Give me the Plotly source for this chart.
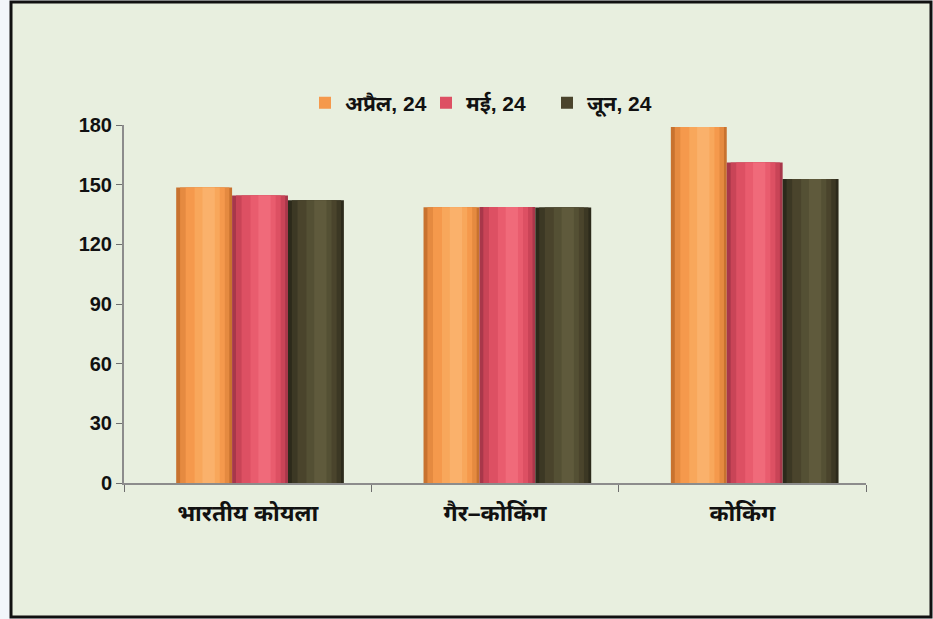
"""कोयला मूल्य सूचकांक - स्तंभ चार्ट"""
import plotly.graph_objects as go

categories = ['भारतीय कोयला', 'गैर–कोकिंग', 'कोकिंग']
series_names = ['अप्रैल, 24', 'मई, 24', 'जून, 24']
april = [148.6, 138.6, 179.0]
may = [144.6, 138.8, 161.2]
june = [142.2, 138.5, 152.8]
y_ticks = [0, 30, 60, 90, 120, 150, 180]

# बेलनाकार छाया: किनारे से चमक तक रंग
shades = [
    ['#C8722F', '#E58A40', '#F5994C', '#F8A75B', '#FAB16B'],
    ['#A8374A', '#C94457', '#DD5063', '#E95C6E', '#F06A7A'],
    ['#2C2A1B', '#3C3824', '#4A442C', '#545034', '#5F5A3C'],
]
W, H = 933, 619
L, R, T, B = 124, 67, 125, 136
pw, ph = W - L - R, H - T - B
bar_w = 0.226
bar_off = [-0.289, -0.063, 0.163]
# (बाएँ से अंश, चौड़ाई का अंश)
bands = [(0.0, 1.0), (0.07, 0.88), (0.17, 0.70), (0.33, 0.45), (0.47, 0.22)]


def px_x(x):
    return (x - L) / pw


def px_y(y):
    return (H - B - y) / ph


fig = go.Figure()
for name, vals, cols, off in zip(series_names, [april, may, june], shades, bar_off):
    for k, ((f0, fw), col) in enumerate(zip(bands, cols)):
        fig.add_trace(go.Bar(
            x=categories, y=vals, name=name, legendgroup=name,
            showlegend=(k == 2), offset=off + f0 * bar_w, width=fw * bar_w,
            marker=dict(color=col, line=dict(width=0)),
        ))

fig.update_layout(
    width=W, height=H,
    margin=dict(l=L, r=R, t=T, b=B),
    paper_bgcolor='#F2F6FA',
    plot_bgcolor='rgba(0,0,0,0)',
    barmode='overlay',
    showlegend=True,
    legend=dict(
        orientation='h', x=px_x(305), y=px_y(103),
        xanchor='left', yanchor='middle',
        bgcolor='rgba(0,0,0,0)',
        entrywidth=76,
        font=dict(family='Liberation Sans, Noto Sans, Arial', size=21, color='#111111',
                  weight='bold'),
    ),
    xaxis=dict(
        showline=True, linecolor='#8C8C8C', linewidth=2,
        ticks='outside', tickson='boundaries', ticklen=7, tickcolor='#6E6E6E',
        ticklabelstandoff=8,
        tickfont=dict(family='Liberation Sans, Noto Sans, Arial', size=23,
                      color='#111111', weight='bold'),
        showgrid=False,
    ),
    yaxis=dict(
        range=[0, 180], tickvals=y_ticks,
        showline=True, linecolor='#8C8C8C', linewidth=2,
        ticks='outside', ticklen=6, tickcolor='#6E6E6E',
        ticklabelstandoff=0,
        tickfont=dict(family='Liberation Sans Narrow, Arial Narrow, Liberation Sans, Arial',
                      size=20, color='#111111', weight='bold'),
        showgrid=False, zeroline=False,
    ),
    shapes=[
        dict(type='rect', xref='paper', yref='paper',
             x0=px_x(11), x1=px_x(931), y0=px_y(617), y1=px_y(2),
             fillcolor='#E8EFDF', line=dict(color='#111111', width=3),
             layer='below'),
    ],
)

fig.write_html("out.html", config={'displayModeBar': False},
               post_script="document.body.style.margin='0px';")
